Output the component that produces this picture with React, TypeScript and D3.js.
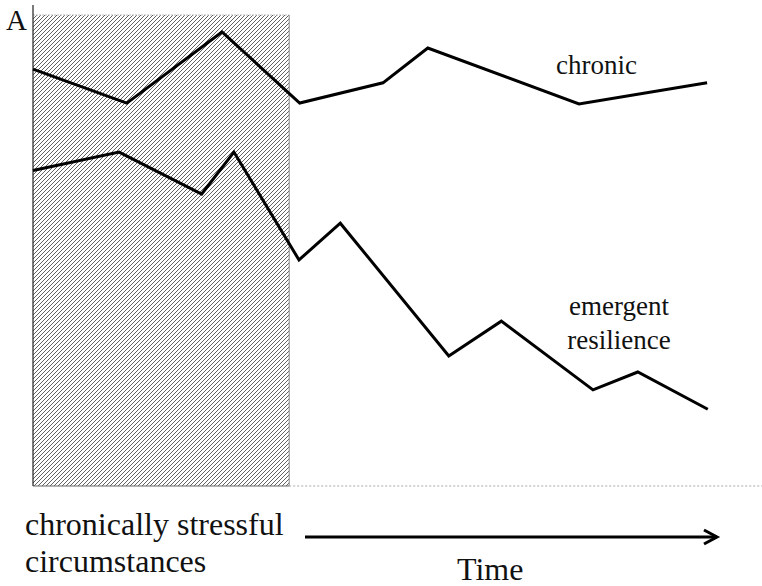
import React from "react";
import * as d3 from "d3";

const chronicTime = [0, 13.4, 27.0, 38.1, 50.0, 56.4, 78.0, 96.3];
const chronicLevel = [88.5, 81.3, 96.4, 81.3, 85.6, 93.0, 81.1, 85.6];
const emergentTime = [0, 12.3, 24.1, 28.7, 38.0, 43.9, 59.4, 66.9, 80.0, 86.4, 96.4];
const emergentLevel = [67.0, 70.9, 62.0, 70.9, 48.0, 55.8, 27.6, 35.0, 20.4, 24.2, 16.3];
const stressPeriod = [0, 36.6];
const seriesLabels = ["chronic", "emergent", "resilience"];
const axisLabel = "A";
const bottomLabels = ["chronically stressful", "circumstances"];
const timeLabel = "Time";

const W = 762;
const H = 586;

export default function App() {
  const x = d3.scaleLinear().domain([0, 100]).range([33, 733]);
  const y = d3.scaleLinear().domain([0, 100]).range([486, 15]);
  const line = d3
    .line<[number, number]>()
    .x((d) => x(d[0]))
    .y((d) => y(d[1]));
  const chronic = chronicTime.map((t, i) => [t, chronicLevel[i]] as [number, number]);
  const emergent = emergentTime.map((t, i) => [t, emergentLevel[i]] as [number, number]);
  const serif = "'Liberation Serif', 'Times New Roman', serif";
  const rx0 = x(stressPeriod[0]);
  const rx1 = x(stressPeriod[1]);
  return (
    <svg
      width={W}
      height={H}
      style={{ position: "absolute", left: 0, top: 0, background: "#fff" }}
    >
      <defs>
        <pattern id="hatch" width={4} height={4} patternUnits="userSpaceOnUse">
          <rect width={4} height={4} fill="#fff" />
          <path d="M-1,1 l2,-2 M0,4 l4,-4 M3,5 l2,-2" stroke="#3a3a3a" strokeWidth={0.8} />
        </pattern>
      </defs>
      <rect x={rx0} y={y(100)} width={rx1 - rx0} height={y(0) - y(100)} fill="url(#hatch)" />
      <line x1={rx0} x2={rx1} y1={y(100)} y2={y(100)} stroke="#bbb" strokeDasharray="2,1" />
      <line x1={rx1} x2={rx1} y1={y(100)} y2={y(0)} stroke="#888" />
      <line x1={rx0} x2={rx1} y1={y(0)} y2={y(0)} stroke="#666" />
      <line x1={rx1} x2={W} y1={y(0)} y2={y(0)} stroke="#aaa" strokeDasharray="2,2" />
      <line x1={rx0} x2={rx0} y1={5} y2={y(0)} stroke="#222" strokeWidth={1.2} />
      <path d={line(chronic) || ""} fill="none" stroke="#000" strokeWidth={3} strokeLinejoin="miter" />
      <path d={line(emergent) || ""} fill="none" stroke="#000" strokeWidth={3} strokeLinejoin="miter" />
      <g fontFamily={serif} fill="#111">
        <text x={6} y={30} fontSize={29}>{axisLabel}</text>
        <text x={556} y={74} fontSize={27}>{seriesLabels[0]}</text>
        <text x={619} y={315} fontSize={27} textAnchor="middle">{seriesLabels[1]}</text>
        <text x={619} y={349} fontSize={27} textAnchor="middle">{seriesLabels[2]}</text>
        <text x={25} y={535} fontSize={32}>{bottomLabels[0]}</text>
        <text x={25} y={572} fontSize={32}>{bottomLabels[1]}</text>
        <text x={457} y={580} fontSize={32}>{timeLabel}</text>
      </g>
      <line x1={305} x2={717} y1={537} y2={537} stroke="#000" strokeWidth={3} />
      <path d="M704,530 L717,537 L704,544" fill="none" stroke="#000" strokeWidth={3} />
    </svg>
  );
}
